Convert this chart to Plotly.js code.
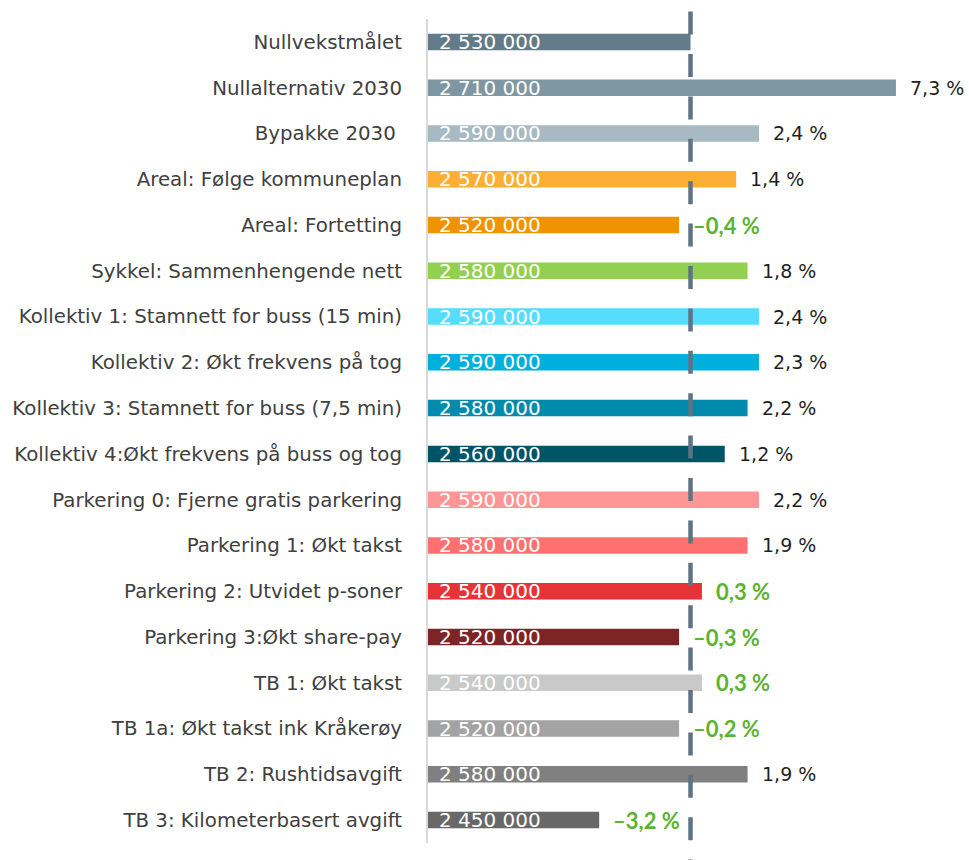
<!DOCTYPE html>
<html>
<head>
<meta charset="utf-8">
<script src="https://cdn.plot.ly/plotly-3.0.1.min.js"></script>
<style>html,body{margin:0;padding:0;background:#fff;}#chart{width:969px;height:860px;}</style>
</head>
<body>
<div id="chart"></div>
<script>
const categories = [
  "Nullvekstmålet",
  "Nullalternativ 2030",
  "Bypakke 2030\u00a0",
  "Areal: Følge kommuneplan",
  "Areal: Fortetting",
  "Sykkel: Sammenhengende nett",
  "Kollektiv 1: Stamnett for buss (15 min)",
  "Kollektiv 2: Økt frekvens på tog",
  "Kollektiv 3: Stamnett for buss (7,5 min)",
  "Kollektiv 4:Økt frekvens på buss og tog",
  "Parkering 0: Fjerne gratis parkering",
  "Parkering 1: Økt takst",
  "Parkering 2: Utvidet p-soner",
  "Parkering 3:Økt share-pay",
  "TB 1: Økt takst",
  "TB 1a: Økt takst ink Kråkerøy",
  "TB 2: Rushtidsavgift",
  "TB 3: Kilometerbasert avgift"
];
const trips = [2530000, 2710000, 2590000, 2570000, 2520000, 2580000, 2590000, 2590000, 2580000, 2560000, 2590000, 2580000, 2540000, 2520000, 2540000, 2520000, 2580000, 2450000];
const pctLabels = ["", "7,3 %", "2,4 %", "1,4 %", "–0,4 %", "1,8 %", "2,4 %", "2,3 %", "2,2 %", "1,2 %", "2,2 %", "1,9 %", "0,3 %", "–0,3 %", "0,3 %", "–0,2 %", "1,9 %", "–3,2 %"];
const highlight = [false, false, false, false, true, false, false, false, false, false, false, false, true, true, true, true, false, true];
const barColors = ["#637b88", "#7f96a3", "#a7b9c3", "#fdaf35", "#f09300", "#92d050", "#55dcff", "#00b0dc", "#008bad", "#005468", "#ff9595", "#ff7070", "#e73338", "#7d2526", "#c9c9c9", "#a3a3a3", "#808080", "#686868"];
const targetValue = trips[0];
const xRange = [2300000, 2774000];

function fmt(v) {
  return String(v).replace(/\B(?=(\d{3})+(?!\d))/g, " ");
}

const trace = {
  type: "bar",
  orientation: "h",
  y: categories,
  x: trips.map(v => v - xRange[0]),
  base: xRange[0],
  marker: { color: barColors, line: { width: 0 } },
  width: 0.36,
  hoverinfo: "none"
};

const annotations = [];
categories.forEach((c, i) => {
  annotations.push({
    x: xRange[0], y: c, xref: "x", yref: "y",
    text: fmt(trips[i]), showarrow: false,
    xanchor: "left", yanchor: "middle", xshift: 9,
    font: { family: "DejaVu Sans", size: 20, color: "#ffffff" }
  });
  if (pctLabels[i]) {
    annotations.push({
      x: trips[i], y: c, xref: "x", yref: "y",
      text: highlight[i] ? "<b>" + pctLabels[i] + "</b>" : pctLabels[i],
      showarrow: false, xanchor: "left", yanchor: "middle", xshift: 12,
      font: highlight[i]
        ? { family: "Lato", size: 22, color: "#5cb233", weight: 900 }
        : { family: "DejaVu Sans", size: 19, color: "#1f1f1f" }
    });
  }
});

const layout = {
  width: 969, height: 860,
  margin: { l: 428, r: 0, t: 19, b: 17 },
  paper_bgcolor: "#ffffff", plot_bgcolor: "#ffffff",
  showlegend: false,
  xaxis: { range: xRange, visible: false, showgrid: false, zeroline: false, fixedrange: true },
  yaxis: {
    autorange: "reversed", showgrid: false, zeroline: false,
    showline: true, linecolor: "#d9d9d9", linewidth: 2,
    ticks: "outside", ticklen: 20, tickcolor: "rgba(0,0,0,0)",
    tickfont: { family: "DejaVu Sans", size: 19.8, color: "#404040" },
    fixedrange: true
  },
  shapes: [{
    type: "line", xref: "x", yref: "paper",
    x0: targetValue, x1: targetValue, y0: 1.009, y1: -0.03,
    line: { color: "#5f7384", width: 4.5, dash: "23px,19.4px" },
    layer: "above"
  }],
  annotations: annotations
};

Plotly.newPlot("chart", [trace], layout, { displayModeBar: false, staticPlot: true });
</script>
</body>
</html>
